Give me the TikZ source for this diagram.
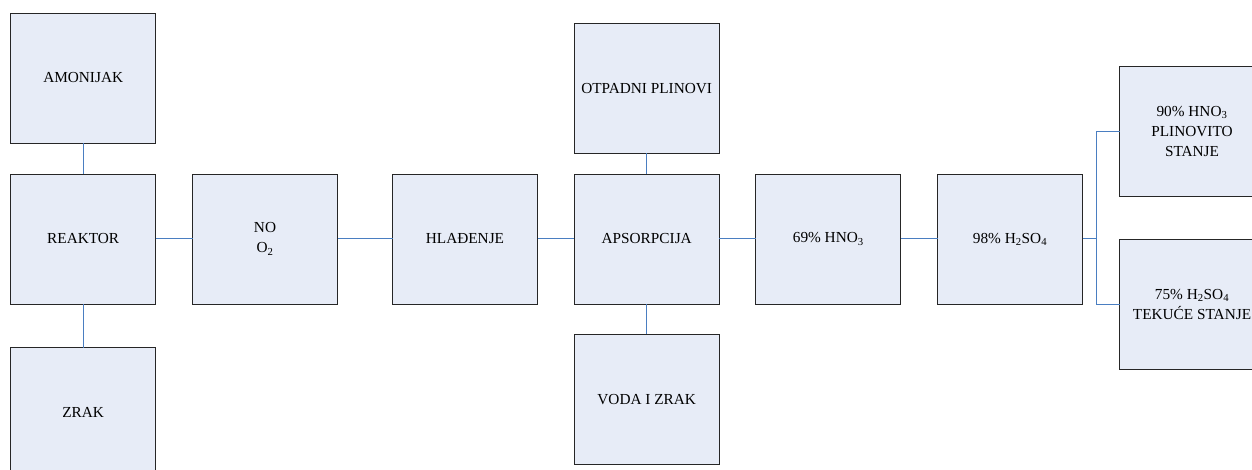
\documentclass[tikz,border=0pt]{standalone}
\usepackage{fontspec}
\setmainfont{Liberation Serif}
\usetikzlibrary{calc}
\definecolor{plavaispuna}{RGB}{231,236,247}
\definecolor{plavaveza}{RGB}{74,126,193}

\begin{document}
\begin{tikzpicture}[x=1pt, y=-1pt]
	\tikzstyle{kutija}=[draw=black!85, line width=0.9pt, fill=plavaispuna,
	  minimum width=145pt, minimum height=130pt, inner sep=0pt, outer sep=0pt,
	  align=center, font=\fontsize{15.3}{20}\selectfont]
	\tikzstyle{veza}=[draw=plavaveza, line width=1pt]
	\useasboundingbox (0,0) rectangle (1252,470);
	\begin{scope}
	\clip (0,0) rectangle (1252,470);
	% lijevi stupac
	\node[kutija] (amonijak) at (83.2,78) {AMONIJAK};
	\node[kutija] (reaktor) at (83.2,239) {REAKTOR};
	\node[kutija] (zrak) at (83.2,412.5) {ZRAK};
	% glavni niz
	\node[kutija] (nooz) at (265,239) {NO\\O\textsubscript{2}};
	\node[kutija] (hladenje) at (465,239) {HLAĐENJE};
	\node[kutija] (apsorpcija) at (646.7,239) {APSORPCIJA};
	\node[kutija] (otpadni) at (646.7,88.3) {OTPADNI PLINOVI};
	\node[kutija] (voda) at (646.7,399.2) {VODA I ZRAK};
	\node[kutija] (hno) at (828.3,239) {69\% HNO\textsubscript{3}};
	\node[kutija] (hso) at (1010,239) {98\% H\textsubscript{2}SO\textsubscript{4}};
	% produkti
	\node[kutija] (plin) at (1192,131.3) {90\% HNO\textsubscript{3}\\PLINOVITO\\STANJE};
	\node[kutija] (tekuce) at (1192,304.3) {75\% H\textsubscript{2}SO\textsubscript{4}\\TEKUĆE STANJE};
	\coordinate (razdvoj) at (1096.7,239);
	% veze
	\draw[veza] (reaktor) -- (amonijak);
	\draw[veza] (reaktor) -- (zrak);
	\draw[veza] (reaktor) -- (nooz);
	\draw[veza] (nooz) -- (hladenje);
	\draw[veza] (hladenje) -- (apsorpcija);
	\draw[veza] (apsorpcija) -- (otpadni);
	\draw[veza] (apsorpcija) -- (voda);
	\draw[veza] (apsorpcija) -- (hno);
	\draw[veza] (hno) -- (hso);
	\draw[veza] (hso.east) -- (razdvoj) |- (plin.west);
	\draw[veza] (razdvoj) |- (tekuce.west);
	\end{scope}
\end{tikzpicture}
\end{document}
